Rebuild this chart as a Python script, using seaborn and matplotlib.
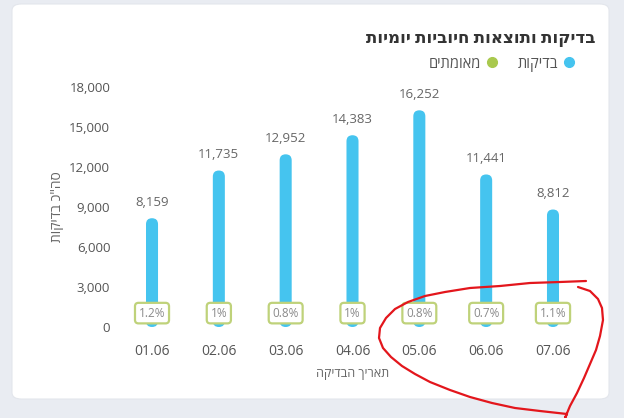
import matplotlib
matplotlib.use("Agg")
import matplotlib.pyplot as plt
from matplotlib.patches import FancyBboxPatch
from matplotlib.lines import Line2D
import seaborn as sns
import pandas as pd

dates = ["01.06", "02.06", "03.06", "04.06", "05.06", "06.06", "07.06"]
tests = [8159, 11735, 12952, 14383, 16252, 11441, 8812]
positive_pct = [1.2, 1, 0.8, 1, 0.8, 0.7, 1.1]
yticks = [0, 3000, 6000, 9000, 12000, 15000, 18000]

title = "בדיקות ותוצאות חיוביות יומיות"
legend_tests = "בדיקות"
legend_pos = "מאומתים"
xlabel = "תאריך הבדיקה"
ylabel = 'סה"כ בדיקות'

# hand drawn red mark (figure pixels, y down)
scribble = [(586, 281), (560, 282), (530, 283), (500, 286), (470, 288), (445, 292),
            (425, 296), (408, 302), (395, 309), (386, 318), (380, 328), (379, 338),
            (383, 348), (391, 357), (402, 366), (415, 374), (430, 382), (450, 390),
            (470, 397), (492, 403), (515, 408), (540, 411), (567, 414), (565, 418),
            (570, 406), (577, 393), (584, 378), (590, 364), (596, 350), (600, 336),
            (603, 320), (602, 308), (598, 299), (590, 291), (578, 287)]

def rtl(s):
    return s[::-1]

BLUE = "#45c4ef"
GREEN = "#a9c94e"
GREY = "#666666"

sns.set_style("white")
plt.rcParams["font.family"] = ["Open Sans", "DejaVu Sans"]

W, H = 624, 418
fig = plt.figure(figsize=(W / 100, H / 100), dpi=100)
fig.patch.set_facecolor("#e9ecf2")
card = FancyBboxPatch((12 / W, 1 - 399 / H), 597 / W, 395 / H,
                      boxstyle="round,pad=0,rounding_size=0.015",
                      transform=fig.transFigure, fc="white", ec="#e3e6ec", lw=0.8,
                      zorder=-10)
fig.patches.append(card)

ax = fig.add_axes([118.6 / W, 1 - 327 / H, 467.8 / W, 240 / H])
ax.set_facecolor("none")

df = pd.DataFrame({"date": dates, "tests": tests})
sns.barplot(data=df, x="date", y="tests", color=BLUE, width=0.18, saturation=1, ax=ax)
ax.set_xlim(-0.5, 6.5)
ax.set_ylim(0, 18000)

# rounded bar tops
bb = ax.get_window_extent()
aspect = (18000 / bb.height) / (7 / bb.width)
for p in list(ax.patches):
    x, w, h = p.get_x(), p.get_width(), p.get_height()
    rb = FancyBboxPatch((x, 0), w, h, boxstyle=f"round,pad=0,rounding_size={w / 2}",
                        mutation_aspect=aspect, fc=BLUE, ec="none", zorder=2)
    p.set_visible(False)
    ax.add_patch(rb)

for i, v in enumerate(tests):
    ax.annotate(f"{v:,}", (i, v), xytext=(0, 11.5), textcoords="offset points",
                ha="center", va="center", fontsize=9.5, color=GREY)
    ax.annotate(f"{positive_pct[i]:g}%", (i, 0), xytext=(0, 10), textcoords="offset points",
                ha="center", va="center", fontsize=8.5, color="#8a8a8a", zorder=5,
                bbox=dict(boxstyle="round,pad=0.32,rounding_size=0.3", fc="white",
                          ec="#bfd27a", lw=1.6))

ax.set_yticks(yticks)
ax.set_yticklabels([f"{t:,}" for t in yticks])
ax.tick_params(axis="both", length=0, labelcolor="#555555")
ax.tick_params(axis="y", pad=6, labelsize=9.5)
ax.tick_params(axis="x", pad=12, labelsize=10)
sns.despine(ax=ax, left=True, bottom=True)
ax.set_xlabel(rtl(xlabel), fontsize=9, color=GREY, labelpad=6)
ax.set_ylabel(rtl(ylabel), fontsize=10, color=GREY, labelpad=3)

fig.text(595 / W, 1 - 38 / H, rtl(title), ha="right", va="center",
         fontsize=12, fontweight="bold", color="#333333")

handles = [Line2D([], [], marker="o", ls="none", color=GREEN, markersize=7),
           Line2D([], [], marker="o", ls="none", color=BLUE, markersize=7)]
fig.legend(handles, [rtl(legend_pos), rtl(legend_tests)], ncol=2, markerfirst=False,
           loc="center right", bbox_to_anchor=(575 / W, 1 - 64 / H), frameon=False,
           fontsize=10.5, labelcolor="#555555", handletextpad=0.35, columnspacing=1.4,
           handlelength=0.8, borderaxespad=0, borderpad=0)

sx = [p[0] / W for p in scribble]
sy = [1 - p[1] / H for p in scribble]
fig.lines.append(Line2D(sx, sy, transform=fig.transFigure, color="#e3161c", lw=1.6,
                        solid_joinstyle="round", solid_capstyle="round"))

fig.savefig("out.png", dpi=100)
